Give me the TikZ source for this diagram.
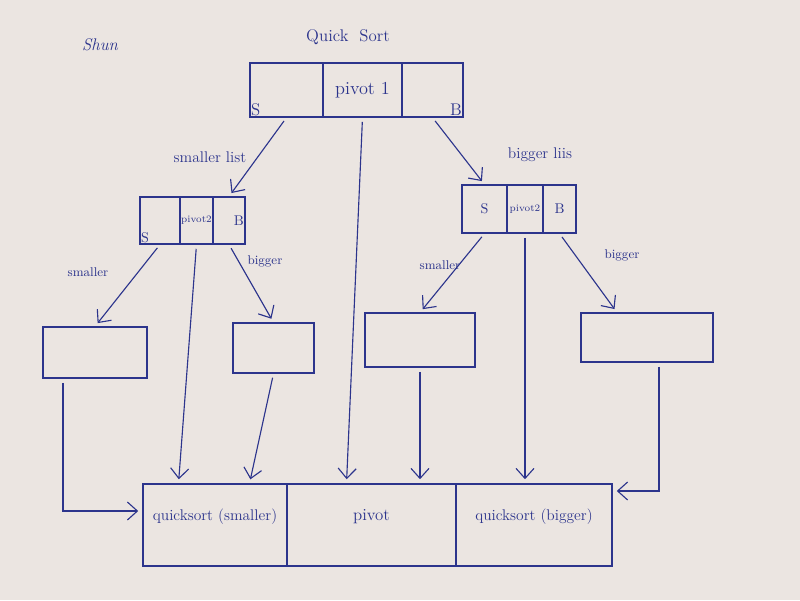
\documentclass[tikz,border=0pt]{standalone}
\usepackage{tikz}
\usetikzlibrary{arrows.meta}

\definecolor{ink}{RGB}{44,52,140}
\definecolor{paper}{RGB}{235,229,225}

\tikzset{
  cell/.style 2 args={draw=ink, text=ink, line width=0.8pt,
    minimum width=#1*0.025cm, minimum height=#2*0.025cm, inner sep=0pt},
  note/.style={text=ink, inner sep=1pt},
  arr/.style={draw=ink, line width=0.8pt,
    -{Straight Barb[length=2.5mm,width=4.5mm]}, shorten <=3pt, shorten >=3pt}
}

\begin{document}
\begin{tikzpicture}[%
        x = 0.025cm, y = -0.025cm
    ]
      \fill[paper] (0,0) rectangle (800,600);
      % titles
      \node[note] (sign) at (100,45) {\large\itshape Shun};
      \node[note] (title) at (348,37) {\large Quick\ \ Sort};
      % first list
      \node[cell={73}{54}] (topS) at (286.5,90) {};
      \node[cell={79}{54}] (topP) at (362.5,90) {\fontsize{13}{15}\selectfont pivot 1};
      \node[cell={61}{54}] (topB) at (432.5,90) {};
      \node[note, anchor=south west] (topSl) at (topS.south west) {\large S};
      \node[note, anchor=south east] (topBl) at (topB.south east) {\large B};
      % smaller list
      \node[cell={40}{47}] (lS) at (160,220.5) {};
      \node[cell={33}{47}] (lP) at (196.5,220.5) {\scriptsize pivot2};
      \node[cell={32}{47}] (lB) at (229,220.5) {};
      \node[note, anchor=south west] (lSl) at (lS.south west) {S};
      \node[note, anchor=east] (lBl) at (lB.east) {B};
      % bigger list
      \node[cell={45}{48}] (rS) at (484.5,209) {S};
      \node[cell={36}{48}] (rP) at (525,209) {\scriptsize pivot2};
      \node[cell={33}{48}] (rB) at (559.5,209) {B};
      % leaves
      \node[cell={104}{51}] (leaf1) at (95,352.5) {};
      \node[cell={81}{50}] (leaf2) at (273.5,348) {};
      \node[cell={110}{54}] (leaf3) at (420,340) {};
      \node[cell={132}{49}] (leaf4) at (647,337.5) {};
      % result
      \node[cell={144}{82}, text depth=14pt] (bS) at (215,525)
        {\fontsize{11}{13}\selectfont quicksort (smaller)};
      \node[cell={169}{82}, text depth=14pt] (bP) at (371.5,525) {\large pivot};
      \node[cell={156}{82}, text depth=14pt] (bB) at (534,525)
        {\fontsize{11}{13}\selectfont quicksort (bigger)};
      % labels
      \node[note] (smlist) at (210,157) {\fontsize{11}{13}\selectfont smaller list};
      \node[note] (biglist) at (540,155) {\fontsize{11}{13}\selectfont bigger liis};
      \node[note] (sm1) at (88,272) {\small smaller};
      \node[note] (bg1) at (265,261) {\small bigger};
      \node[note] (sm2) at (440,265) {\small smaller};
      \node[note] (bg2) at (622,255) {\small bigger};
      % arrows
      \draw[arr] (topS.south) -- (lB.north);
      \draw[arr] (topP.south) -- ([xshift=-0.4cm]topP.south |- bP.north);
      \draw[arr] (topB.south) -- (rS.north);
      \draw[arr] (lS.south) -- (leaf1.north);
      \draw[arr] (lP.south) -- ([xshift=-0.45cm]lP.south |- bS.north);
      \draw[arr] (lB.south) -- (leaf2.north);
      \draw[arr] (rS.south) -- (leaf3.north);
      \draw[arr] (rP.south) -- (rP.south |- bB.north);
      \draw[arr] (rB.south) -- ([xshift=-0.75cm]leaf4.north);
      \draw[arr] ([xshift=-0.8cm]leaf1.south) |- ([yshift=0.35cm]bS.west);
      \draw[arr] (leaf2.south) -- ([xshift=-0.6cm]leaf2.south |- bS.north);
      \draw[arr] (leaf3.south) -- (leaf3.south |- bP.north);
      \draw[arr] ([xshift=0.3cm]leaf4.south) |- ([yshift=0.85cm]bB.east);
    \end{tikzpicture}
\end{document}
